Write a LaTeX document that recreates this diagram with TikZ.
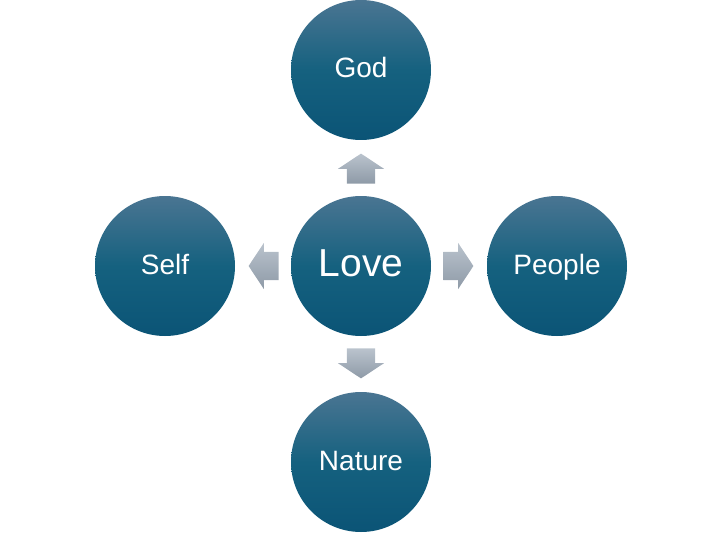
\documentclass[tikz,border=0pt]{standalone}
\usepackage{fontspec}
\setmainfont{Liberation Sans}
\usetikzlibrary{shapes.arrows,positioning}

\definecolor{circtop}{HTML}{4A7592}
\definecolor{circmid}{HTML}{15617F}
\definecolor{circbot}{HTML}{0B5476}
\definecolor{arrtop}{HTML}{BAC3CD}
\definecolor{arrbot}{HTML}{8E9AA7}

\tikzset{
  topic/.style={circle, minimum size=140pt, inner sep=0pt,
    text height=22pt, text depth=6pt,
    top color=circtop, bottom color=circbot, middle color=circmid,
    text=white, font=\fontsize{28}{32}\selectfont},
  hub/.style={topic, text height=28pt, text depth=8pt,
    font=\fontsize{39}{44}\selectfont},
  blockarrow/.style={single arrow, minimum height=30pt, minimum width=46pt,
    single arrow head extend=9pt, single arrow tip angle=113,
    text height=0pt, text depth=0pt, text width=0pt, anchor=tail,
    draw=none, top color=arrtop, bottom color=arrbot},
  sidearrow/.style={blockarrow, inner xsep=0pt, inner ysep=14pt},
  uparrow/.style={blockarrow, inner xsep=14pt, inner ysep=0pt}
}

\begin{document}
\begin{tikzpicture}[x=1pt,y=-1pt]
% --- page frame
\useasboundingbox (0,0) rectangle (724,535);

% --- the centre
\node[hub] (love) at (361,266) {Love};

% ---- the four circles round it
\node[topic] (god) at (361,70) {God};
\node[topic] (self) at (165,266) {Self};
\node[topic] (people) at (557,266) {People};
\node[topic] (nature) at (361,462) {Nature};

% ---- block arrows out of the centre
\node[uparrow, above=12pt of love, shape border rotate=90, anchor=tail] (toGod) {};
\node[sidearrow, left=12pt of love, shape border rotate=180, anchor=tail] (toSelf) {};
\node[sidearrow, right=12pt of love, anchor=tail] (toPeople) {};
\node[uparrow, below=12pt of love, shape border rotate=270, anchor=tail] (toNature) {};
\end{tikzpicture}
\end{document}
